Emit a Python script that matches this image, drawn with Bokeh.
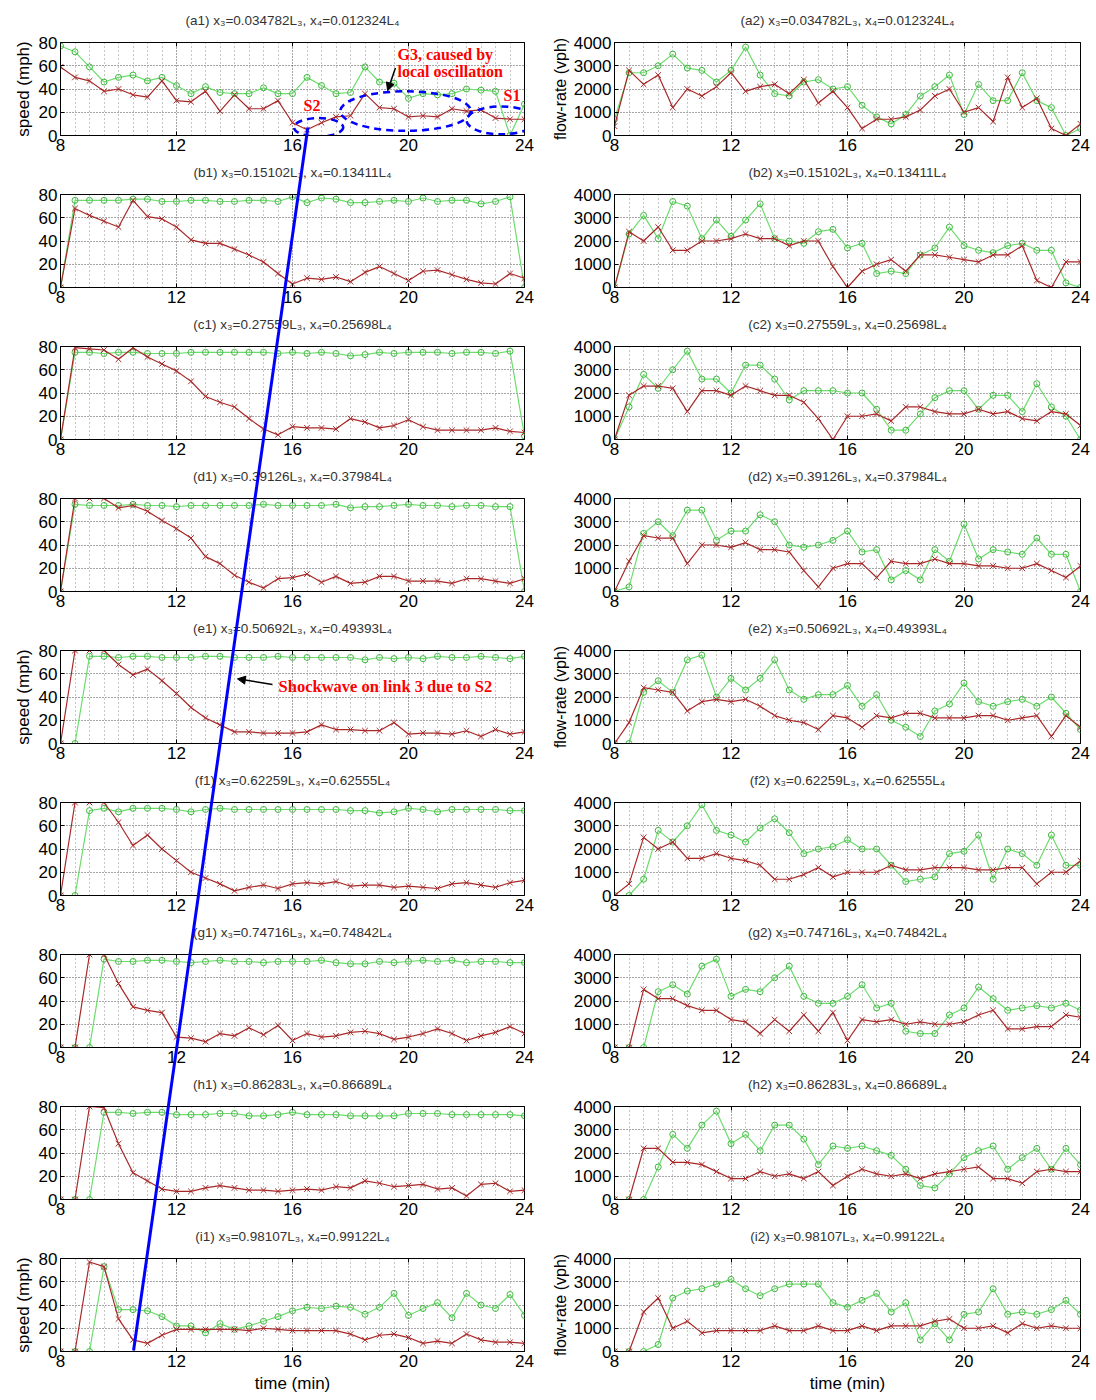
from bokeh.plotting import figure
from bokeh.layouts import gridplot, column
from bokeh.models import FixedTicker, Arrow, NormalHead, Label, Range1d, LinearAxis
from bokeh.embed import file_html
from bokeh.resources import INLINE

time_min = [8.0, 8.5, 9.0, 9.5, 10.0, 10.5, 11.0, 11.5, 12.0, 12.5, 13.0, 13.5, 14.0, 14.5, 15.0, 15.5,
            16.0, 16.5, 17.0, 17.5, 18.0, 18.5, 19.0, 19.5, 20.0, 20.5, 21.0, 21.5, 22.0, 22.5, 23.0, 23.5, 24.0]

# ---- speed (mph), link 3 (green) and link 4 (red) ----
a1_green = [77,72,59,46,50,52,47,50,43,36,42,37,36,36,41,36,36,50,43,36,37,59,46,45,32,36,35,36,40,39,38,0,27]
a1_red = [59,50,47,38,40,35,33,47,30,29,38,21,35,23,23,30,11,5,11,16,17,36,24,23,16,17,16,23,21,22,15,14,14]
b1_green = [0,75,75,75,75,76,76,74,74,75,75,74,74,75,75,74,78,73,77,76,73,73,74,75,74,77,74,75,75,72,74,78,0]
b1_red = [0,68,62,57,52,75,61,59,52,41,38,38,33,28,22,12,3,8,7,9,5,13,18,12,6,14,15,11,7,4,3,12,8]
c1_green = [0,75,75,74,75,75,74,74,74,75,75,75,75,75,75,74,75,74,75,74,72,73,75,74,75,75,75,74,75,75,74,76,3]
c1_red = [0,79,78,77,69,79,71,65,59,50,37,32,28,18,9,4,11,10,10,9,18,15,10,12,17,11,8,8,8,8,10,7,6]
d1_green = [0,75,74,74,74,75,74,74,73,74,74,74,74,74,75,74,74,74,74,75,72,73,73,74,75,74,74,73,74,74,73,73,0]
d1_red = [0,80,80,80,72,74,69,61,54,46,30,24,14,8,3,11,12,15,8,13,7,8,13,13,9,9,9,7,11,11,9,7,11]
e1_green = [0,0,75,75,74,75,75,74,74,74,75,75,74,74,74,75,74,74,74,74,74,72,74,73,74,73,75,74,74,75,74,73,75]
e1_red = [0,80,80,80,68,59,64,54,43,31,22,16,10,10,9,9,9,10,16,12,12,11,11,18,8,9,9,8,11,6,12,8,10]
f1_green = [0,0,73,75,72,75,75,75,74,72,74,75,74,74,74,74,74,74,74,74,73,73,71,72,75,74,72,74,74,74,74,73,73]
f1_red = [0,80,80,80,63,43,52,40,30,20,15,10,4,7,9,6,10,11,10,12,8,9,9,7,8,7,6,10,11,9,7,11,13]
g1_green = [0,0,0,76,74,74,75,75,74,73,74,75,74,74,73,74,74,74,75,73,72,72,74,73,74,75,74,75,73,74,74,73,73]
g1_red = [0,0,80,80,55,35,32,30,9,8,5,12,10,17,11,19,6,12,9,10,13,14,12,7,9,12,16,12,6,10,13,18,12]
h1_green = [0,0,0,75,75,74,75,75,73,73,73,74,74,72,72,73,75,73,73,73,72,72,72,72,74,74,74,73,73,73,73,73,72]
h1_red = [0,0,80,79,48,23,16,9,7,7,10,12,10,8,8,7,8,9,8,11,10,16,14,11,12,13,9,10,3,13,14,7,8]
i1_green = [0,0,0,73,36,36,35,30,22,22,16,24,19,22,26,30,35,38,37,39,38,32,38,50,31,37,42,29,50,40,37,49,31]
i1_red = [0,0,77,73,28,10,7,14,19,19,19,19,19,18,20,19,18,18,18,18,15,10,14,15,12,7,9,7,15,10,8,8,7]

# ---- flow-rate (vph) ----
a2_green = [700,2700,2700,3000,3500,2900,2800,2300,2800,3800,2600,1800,1700,2300,2400,2000,2100,1300,800,500,900,1700,2100,2600,900,2200,1500,1500,2700,1500,1200,0,300]
a2_red = [400,2800,2200,2600,1200,2000,1700,2100,2700,1900,2100,2200,1800,2400,1400,1900,1200,300,700,700,800,1100,1700,2000,1000,1200,600,2500,1200,1600,300,0,500]
b2_green = [0,2300,3100,2100,3700,3500,2100,2900,2200,2900,3600,2100,2000,1900,2400,2500,1700,1900,600,700,600,1400,1700,2600,1800,1600,1500,1800,1900,1600,1600,200,0]
b2_red = [0,2400,2000,2600,1600,1600,2000,2000,2100,2300,2100,2100,1800,2000,2000,900,0,700,1000,1200,700,1400,1400,1300,1200,1100,1400,1400,1800,300,0,1100,1100]
c2_green = [0,1400,2800,2200,3000,3800,2600,2600,2000,3200,3200,2600,1700,2100,2100,2100,2000,2000,1300,400,400,1100,1800,2100,2100,1300,1900,1900,1200,2400,1400,1000,0]
c2_red = [0,1900,2300,2300,2200,1200,2100,2100,1900,2300,2100,1900,1900,1600,900,0,1000,1000,1100,800,1400,1400,1200,1100,1100,1300,1100,1200,900,800,1200,1100,600]
d2_green = [0,200,2500,3000,2400,3500,3500,2200,2600,2600,3300,3000,2000,1900,2000,2200,2600,1700,1800,500,900,500,1800,1300,2900,1400,1800,1700,1600,2300,1600,1600,0]
d2_red = [0,1300,2400,2300,2300,1200,2000,2000,1900,2100,1800,1800,1700,900,200,1000,1200,1200,600,1300,1200,1200,1400,1200,1200,1100,1100,1000,1000,1200,900,600,1100]
e2_green = [0,0,2200,2700,2200,3600,3800,2000,2800,2300,2800,3600,2300,1900,2100,2100,2500,1600,2100,1000,700,300,1400,1700,2600,1800,1600,1800,1900,1600,2000,1300,600]
e2_red = [0,900,2400,2300,2200,1400,1800,1900,1800,1900,1600,1200,1000,900,600,1200,1100,700,1200,1100,1300,1300,1100,1100,1100,1200,1200,1000,1100,1200,300,1200,700]
f2_green = [0,0,700,2800,2300,3000,3900,2800,2600,2300,2900,3300,2700,1800,2000,2100,2400,2000,2000,1300,600,700,800,1800,1900,2600,700,2000,1800,1300,2600,1300,1300]
f2_red = [0,500,2500,2000,2300,1600,1600,1800,1600,1500,1300,700,700,900,1200,800,1000,1000,1000,1300,1100,1100,1200,1200,1200,1100,1100,1200,1200,500,1000,1000,1500]
g2_green = [0,0,0,2400,2700,2300,3500,3800,2200,2500,2400,3000,3500,2200,1900,1900,2200,2700,1700,1900,700,600,600,1400,1700,2600,2100,1600,1700,1800,1700,1900,1600]
g2_red = [0,0,2500,2100,2100,1800,1600,1600,1200,1100,600,1200,700,1400,700,1500,300,1200,1100,1200,1000,1100,1000,1000,1100,1400,1600,800,800,900,900,1400,1300]
h2_green = [0,0,0,1400,2800,2200,3200,3800,2400,2800,2100,3200,3200,2600,1500,2300,2200,2300,2100,1900,1300,600,500,1100,1800,2100,2300,1300,1800,2200,1300,2200,1500]
h2_red = [0,0,2200,2200,1600,1600,1500,1200,900,900,1200,1000,1100,900,1200,600,1000,1300,1100,1000,1100,900,1100,1200,1300,1400,900,900,700,1200,1300,1200,1200]
i2_green = [0,0,0,300,2300,2600,2700,2900,3100,2700,2400,2700,2900,2900,2900,2100,1900,2200,2500,1700,2100,500,1200,500,1600,1700,2700,1600,1700,1600,1800,2200,1600]
i2_red = [0,0,1700,2300,1000,1300,800,900,900,900,900,1100,900,900,1100,900,900,1100,900,1100,1100,1100,1300,1400,1000,1000,1100,800,1200,1000,1100,1000,1000]

row_letters = ["a", "b", "c", "d", "e", "f", "g", "h", "i"]
x3_values = ["0.034782", "0.15102", "0.27559", "0.39126", "0.50692", "0.62259", "0.74716", "0.86283", "0.98107"]
x4_values = ["0.012324", "0.13411", "0.25698", "0.37984", "0.49393", "0.62555", "0.74842", "0.86689", "0.99122"]

speed_green = [a1_green, b1_green, c1_green, d1_green, e1_green, f1_green, g1_green, h1_green, i1_green]
speed_red = [a1_red, b1_red, c1_red, d1_red, e1_red, f1_red, g1_red, h1_red, i1_red]
flow_green = [a2_green, b2_green, c2_green, d2_green, e2_green, f2_green, g2_green, h2_green, i2_green]
flow_red = [a2_red, b2_red, c2_red, d2_red, e2_red, f2_red, g2_red, h2_red, i2_red]

x_major = [8, 12, 16, 20, 24]
speed_ticks = [0, 20, 40, 60, 80]
flow_ticks = [0, 1000, 2000, 3000, 4000]

# annotation geometry (panel a1 / e1 data coordinates)
ellipse_x = [16.9, 19.9, 23.2]
ellipse_y = [7, 21, 13]
ellipse_w = [1.7, 4.5, 2.4]
ellipse_h = [16, 34, 24]
shock_top = (16.53, 6.0)     # in panel a1 (time, speed)
shock_bottom = (10.52, 0.0)  # in panel i1 (time, speed)

GREEN_LINE = "#6ddc6d"
GREEN_MARK = "#3fb83f"
RED = "#a82828"
FONT = "Liberation Sans"
SERIF = "Liberation Serif"

FRAME_H = 93
ROW_TOP = [42, 34, 34, 34, 34, 34, 34, 34, 34]
ROW_BOT = [25, 25, 25, 25, 25, 25, 25, 25, 48]
LEFT_W = 464
LEFT_B = 60
PAGE_W, PAGE_H = 1096, 1400


def style_axis(ax):
    ax.major_label_text_font = FONT
    ax.major_label_text_font_size = "17px"
    ax.major_label_text_color = "black"
    ax.major_tick_in = 4
    ax.major_tick_out = 0
    ax.minor_tick_in = 0
    ax.minor_tick_out = 0
    ax.axis_line_color = "black"
    ax.major_label_standoff = 3
    ax.axis_label_text_font = FONT
    ax.axis_label_text_font_size = "17px"
    ax.axis_label_text_font_style = "normal"
    ax.axis_label_text_color = "black"


def make_panel(r, c):
    speed = c == 0
    ymax = 80 if speed else 4000
    p = figure(frame_width=LEFT_W if speed else 466, frame_height=FRAME_H,
               x_range=(8, 24), y_range=(0, ymax),
               output_backend="svg", toolbar_location=None,
               min_border_left=LEFT_B if speed else 64,
               min_border_right=24 if speed else 18,
               min_border_top=ROW_TOP[r], min_border_bottom=ROW_BOT[r])
    p.background_fill_color = "white"
    p.border_fill_color = "white"
    p.outline_line_color = "black"
    p.outline_line_width = 1

    minor = [t for t in time_min if t not in x_major]
    p.xaxis.ticker = FixedTicker(ticks=x_major, minor_ticks=minor)
    p.yaxis.ticker = FixedTicker(ticks=speed_ticks if speed else flow_ticks)
    style_axis(p.xaxis[0])
    style_axis(p.yaxis[0])
    if r in (0, 4, 8):
        p.yaxis.axis_label = "speed (mph)" if speed else "flow-rate (vph)"
        p.yaxis.axis_label_standoff = 3 if speed else 2
        if not speed:
            p.yaxis.axis_label_text_font_size = "16px"
    if r == 8:
        p.xaxis.axis_label = "time (min)"
        p.xaxis.axis_label_standoff = 4

    # top box edge with inward ticks (no tick labels); carries the panel title as its label
    top = LinearAxis(ticker=FixedTicker(ticks=[], minor_ticks=x_major))
    style_axis(top)
    top.minor_tick_in = 4
    top.major_label_standoff = 0
    top.axis_label = "(%s%d) x₃=%sL₃, x₄=%sL₄" % (row_letters[r], c + 1, x3_values[r], x4_values[r])
    top.axis_label_text_font_size = "13.5px"
    top.axis_label_text_color = "#333333"
    top.axis_label_standoff = 15
    p.add_layout(top, "above")

    p.xgrid.grid_line_color = "black"
    p.xgrid.grid_line_dash = "1 2"
    p.xgrid.grid_line_alpha = 0.7
    p.xgrid.minor_grid_line_color = "black"
    p.xgrid.minor_grid_line_dash = "1 3"
    p.xgrid.minor_grid_line_alpha = 0.45
    p.ygrid.grid_line_color = "black"
    p.ygrid.grid_line_dash = "1 2"
    p.ygrid.grid_line_alpha = 0.7

    g = speed_green[r] if speed else flow_green[r]
    rd = speed_red[r] if speed else flow_red[r]
    p.line(time_min, g, line_color=GREEN_LINE, line_width=1.2)
    p.scatter(time_min, g, marker="circle", size=6, line_color=GREEN_MARK, fill_color=None, line_width=1)
    p.line(time_min, rd, line_color=RED, line_width=1.2)
    p.scatter(time_min, rd, marker="x", size=8, line_color=RED, line_width=1)
    return p


panels = [[make_panel(r, c) for c in range(2)] for r in range(9)]

# ---- annotations in a1 ----
a1 = panels[0][0]
a1.ellipse(x=ellipse_x, y=ellipse_y, width=ellipse_w, height=ellipse_h,
           fill_color=None, line_color="#0000ff", line_width=2.5, line_dash="7 5")
for txt, x, y in (("G3, caused by", 19.62, 77.4), ("local oscillation", 19.62, 62.0),
                  ("S2", 16.38, 33.5), ("S1", 23.28, 41.3)):
    a1.add_layout(Label(x=x, y=y, text=txt, text_color="#ff0000", text_font=SERIF,
                        text_font_style="bold", text_font_size="16px", text_baseline="top"))
a1.add_layout(Arrow(end=NormalHead(size=8, fill_color="black", line_color="black"),
                    x_start=19.55, y_start=58.0, x_end=19.28, y_end=38.5,
                    line_color="black", line_width=1.5))

# ---- annotation in e1 ----
e1 = panels[4][0]
e1.add_layout(Label(x=15.52, y=49.0, text="Shockwave on link 3 due to S2", text_color="#ff0000",
                    text_font=SERIF, text_font_style="bold", text_font_size="16.5px",
                    text_baseline="middle"))
e1.add_layout(Arrow(end=NormalHead(size=8, fill_color="black", line_color="black"),
                    x_start=15.31, y_start=50.8, x_end=14.1, y_end=55.6,
                    line_color="black", line_width=1.5))

grid = gridplot(panels, toolbar_location=None)

# ---- shockwave line: a transparent overlay spanning all left panels ----
px_min = LEFT_W / 16.0
px_unit = FRAME_H / 80.0
frame_top = []
acc = 0
for r in range(9):
    frame_top.append(acc + ROW_TOP[r])
    acc += ROW_TOP[r] + FRAME_H + ROW_BOT[r]
shock_x = [LEFT_B + (shock_top[0] - 8) * px_min, LEFT_B + (shock_bottom[0] - 8) * px_min]
shock_y = [frame_top[0] + FRAME_H - shock_top[1] * px_unit, frame_top[8] + FRAME_H - shock_bottom[1] * px_unit]

overlay = figure(width=PAGE_W, height=PAGE_H, x_range=Range1d(0, PAGE_W), y_range=Range1d(PAGE_H, 0),
                 x_axis_type=None, y_axis_type=None, min_border=0, toolbar_location=None,
                 output_backend="svg", outline_line_color=None,
                 background_fill_color=None, border_fill_color=None,
                 styles={"margin-top": "-%dpx" % PAGE_H, "pointer-events": "none"})
overlay.line(shock_x, shock_y, line_color="#0000ff", line_width=3)

layout = column(grid, overlay)
open("out.html", "w").write(file_html(layout, INLINE))
